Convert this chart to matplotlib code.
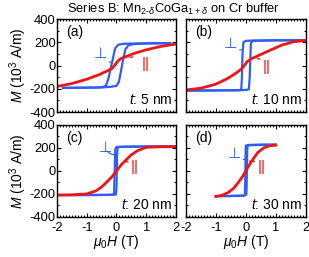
import matplotlib
matplotlib.use("Agg")
import matplotlib.pyplot as plt
from matplotlib.ticker import MultipleLocator

plt.rcParams['font.family'] = ['Liberation Sans', 'DejaVu Sans']
plt.rcParams['mathtext.fontset'] = 'custom'
plt.rcParams['mathtext.rm'] = 'Liberation Sans'
plt.rcParams['mathtext.it'] = 'Liberation Sans:italic'

BLUE = '#2f5ef5'
RED = '#f21414'

# ---- data ----
# panel (a) t = 5 nm
a_blue_dn_H = [1.8, 1.0, 0.5, 0.2, 0.05, -0.05, -0.12, -0.2, -0.28, -0.35, -0.45, -0.7, -1.8]
a_blue_dn_M = [193, 191, 189, 186, 178, 145, 60, -30, -120, -170, -185, -190, -192]
a_blue_up_H = [-1.8, -1.0, -0.5, -0.2, 0.0, 0.08, 0.15, 0.22, 0.3, 0.4, 0.6, 1.0, 1.8]
a_blue_up_M = [-192, -190, -188, -183, -175, -140, -50, 50, 140, 175, 185, 190, 193]
a_red_H = [-2, -1.5, -1.0, -0.6, -0.3, -0.15, -0.05, 0.05, 0.15, 0.3, 0.6, 1.0, 1.5, 2.0]
a_red_M = [-180, -155, -118, -80, -45, -25, 5, 40, 60, 75, 105, 135, 165, 185]

# panel (b) t = 10 nm
b_blue_dn_H = [1.95, 1.0, 0.3, 0.0, -0.08, -0.11, -0.13, -0.15, -0.2, -1.0, -1.95]
b_blue_dn_M = [218, 217, 215, 212, 200, 100, -100, -200, -212, -214, -215]
b_blue_up_H = [-1.95, -1.0, -0.3, 0.0, 0.1, 0.13, 0.15, 0.17, 0.22, 1.0, 1.95]
b_blue_up_M = [-215, -214, -213, -210, -205, -100, 50, 190, 212, 217, 218]
b_red_H = [-2, -1.5, -1.0, -0.6, -0.3, -0.15, -0.05, 0.05, 0.2, 0.5, 0.8, 1.2, 1.6, 2.0]
b_red_M = [-210, -195, -160, -110, -60, -30, 0, 35, 60, 95, 130, 175, 205, 215]

# panel (c) t = 20 nm
c_blue_dn_H = [2, 1, 0.3, 0.0, -0.04, -0.06, -0.08, -0.1, -0.15, -1, -2]
c_blue_dn_M = [212, 212, 211, 208, 190, 0, -190, -205, -208, -210, -210]
c_blue_up_H = [-2, -1, -0.3, -0.02, 0.0, 0.01, 0.02, 0.04, 0.1, 1, 2]
c_blue_up_M = [-210, -210, -209, -205, -150, 0, 150, 205, 209, 212, 212]
c_red_H = [-2, -1.5, -1.0, -0.7, -0.5, -0.3, -0.15, 0, 0.15, 0.3, 0.5, 0.7, 1.0, 1.5, 2]
c_red_M = [-210, -208, -200, -175, -140, -90, -50, 0, 50, 90, 140, 175, 205, 210, 210]

# panel (d) t = 30 nm
d_blue_dn_H = [1, 0.5, 0.1, 0.0, -0.01, -0.02, -0.03, -0.05, -0.5, -1]
d_blue_dn_M = [228, 228, 226, 220, 100, -100, -200, -215, -218, -220]
d_blue_up_H = [-1, -0.5, -0.05, 0.02, 0.03, 0.04, 0.05, 0.07, 0.5, 1]
d_blue_up_M = [-220, -218, -215, -205, -100, 100, 200, 222, 227, 228]
d_red_H = [-1, -0.8, -0.6, -0.4, -0.25, -0.1, 0, 0.1, 0.25, 0.4, 0.6, 0.8, 1.0]
d_red_M = [-222, -212, -190, -150, -100, -45, 0, 45, 105, 160, 200, 218, 224]

panel_labels = ['(a)', '(b)', '(c)', '(d)']
thickness_labels = ['5 nm', '10 nm', '20 nm', '30 nm']
x_ticks = [-2, -1, 0, 1, 2]
y_ticks = [-400, -200, 0, 200, 400]

panels = [
    (a_blue_dn_H, a_blue_dn_M, a_blue_up_H, a_blue_up_M, a_red_H, a_red_M),
    (b_blue_dn_H, b_blue_dn_M, b_blue_up_H, b_blue_up_M, b_red_H, b_red_M),
    (c_blue_dn_H, c_blue_dn_M, c_blue_up_H, c_blue_up_M, c_red_H, c_red_M),
    (d_blue_dn_H, d_blue_dn_M, d_blue_up_H, d_blue_up_M, d_red_H, d_red_M),
]

# annotation positions: (perp text xy, perp leader end, par text xy, par leader end)
annots = [
    ((-0.55, 105), (-0.2, 30), (0.97, 15), (0.45, 70)),
    ((-0.52, 190), (-0.15, 135), (0.7, -15), (0.38, 60)),
    ((-0.36, 200), (-0.05, 140), (0.62, 30), (0.24, 80)),
    ((-0.4, 150), (-0.04, 100), (0.52, 30), (0.12, 85)),
]

fig = plt.figure(figsize=(3.09, 2.57), dpi=100)
positions = [
    [0.1845, 0.564, 0.385, 0.362],
    [0.602, 0.564, 0.387, 0.362],
    [0.1845, 0.156, 0.385, 0.358],
    [0.602, 0.156, 0.387, 0.358],
]

FS = 10
TFS = 9.3
for i, pos in enumerate(positions):
    ax = fig.add_axes(pos)
    bdH, bdM, buH, buM, rH, rM = panels[i]
    ax.plot(bdH, bdM, color=BLUE, lw=1.6, solid_joinstyle='round')
    ax.plot(buH, buM, color=BLUE, lw=1.6, solid_joinstyle='round')
    ax.plot(rH, rM, color=RED, lw=2.0, solid_joinstyle='round')
    ax.set_xlim(-2, 2)
    ax.set_ylim(-400, 400)
    ax.set_xticks(x_ticks)
    ax.set_yticks(y_ticks)
    ax.xaxis.set_minor_locator(MultipleLocator(0.1))
    ax.yaxis.set_minor_locator(MultipleLocator(100))
    ax.tick_params(which='both', direction='in', top=True, right=True, width=0.8,
                   labelsize=TFS)
    ax.tick_params(axis='y', which='both', pad=1.0)
    ax.tick_params(axis='x', which='both', pad=4.0)
    ax.tick_params(which='major', length=3)
    ax.tick_params(which='minor', length=1.5)
    for s in ax.spines.values():
        s.set_linewidth(1.0)
    if i < 2:
        ax.tick_params(labelbottom=False)
    else:
        ax.set_xlabel(r'$\mu_0H$ (T)', fontsize=FS, labelpad=-1)
        ax.set_xticklabels([str(v) for v in x_ticks])
    if i % 2 == 1:
        ax.tick_params(labelleft=False)
    else:
        ax.set_ylabel(r'$M$ (10$^3$ A/m)', fontsize=FS, labelpad=0)
        ax.set_yticklabels([str(v) for v in y_ticks])
    ax.text(0.08, 0.86, panel_labels[i], transform=ax.transAxes, fontsize=FS,
            ha='left', va='center')
    ax.text(0.97, 0.13, r'$t$: ' + thickness_labels[i], transform=ax.transAxes,
            fontsize=FS, ha='right', va='center')
    pt, pe, rt, re = annots[i]
    ax.annotate('⊥', xy=pe, xytext=pt, color=BLUE, fontsize=11, ha='center', va='center',
                family=['DejaVu Sans'],
                arrowprops=dict(arrowstyle='-', color=BLUE, lw=0.9, shrinkA=3, shrinkB=0,
                                connectionstyle='arc3,rad=0.35'))
    ax.annotate('||', xy=re, xytext=rt, color=RED, fontsize=11, ha='center', va='center',
                arrowprops=dict(arrowstyle='-', color=RED, lw=0.9, shrinkA=4, shrinkB=0,
                                connectionstyle='arc3,rad=0.35'))

fig.text(0.56, 0.962, r'Series B: Mn$_{2\text{-}\delta}$CoGa$_{1+\delta}$ on Cr buffer',
         fontsize=9.3, ha='center', va='center')

fig.savefig('out.png', dpi=100)
